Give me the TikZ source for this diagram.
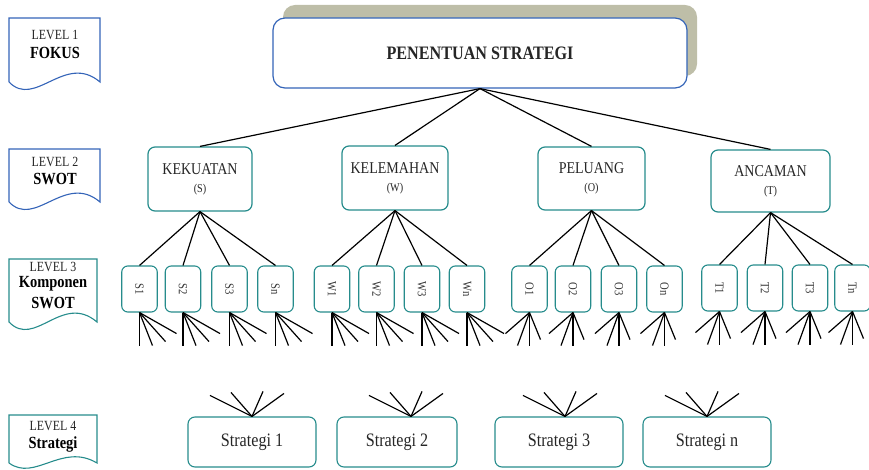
\documentclass[tikz,border=0pt]{standalone}
\usepackage{fontspec}
\setmainfont[FakeStretch=0.85]{Liberation Serif}
\definecolor{blueC}{RGB}{52,100,184}
\definecolor{tealC}{RGB}{38,140,140}
\definecolor{shadowC}{RGB}{190,190,168}
% level tag: box with a wavy lower edge
\newcommand\leveltag[6]{%
  \draw[#5, line width=1.1pt] (#1,#4) -- (#1,#3) -- (#2,#3) -- (#2,#4)
    .. controls (#2-35,#4-#6*1.1) and (#1+26,#4+#6) .. (#1,#4);}
\begin{document}
\begin{tikzpicture}[x=1pt,y=-1pt,
  topbox/.style={draw=blueC, line width=1.2pt, rounded corners=12pt, fill=white,
    minimum width=414pt, minimum height=70pt, inner sep=0pt,
    font=\fontsize{19}{22}\selectfont\bfseries, text=black!85},
  swotbox/.style={draw=tealC, line width=1.2pt, rounded corners=7pt, fill=white,
    align=center, inner sep=0pt, font=\fontsize{16.5}{19}\selectfont, text=black!85},
  compbox/.style={draw=tealC, line width=1.1pt, rounded corners=6pt,
    minimum width=35.5pt, minimum height=46pt, inner sep=0pt},
  compl/.style={rotate=-90, font=\fontsize{12.5}{14}\selectfont, text=black!80},
  stratbox/.style={draw=tealC, line width=1.1pt, rounded corners=7pt,
    minimum width=128pt, minimum height=50pt, inner sep=0pt,
    font=\fontsize{19}{22}\selectfont, text=black!85},
  lvl/.style={font=\fontsize{14}{16}\selectfont, text=black!85, inner sep=0pt},
  lvlb/.style={font=\fontsize{17}{19}\selectfont\bfseries, text=black, inner sep=0pt},
  link/.style={line width=1.2pt, black}]
\useasboundingbox (0,0) rectangle (869,470);

% level tags
\leveltag{9}{100}{18}{82}{blueC}{27}
\leveltag{9}{100}{149}{202}{blueC}{27}
\leveltag{9}{97}{259}{322}{tealC}{27}
\leveltag{9}{97}{415}{463}{tealC}{19}
\node[lvl]  (l1a) at (55,35)  {LEVEL 1};
\node[lvlb] (l1b) at (55,53)  {FOKUS};
\node[lvl]  (l2a) at (55,162) {LEVEL 2};
\node[lvlb] (l2b) at (55,179) {SWOT};
\node[lvl]  (l3a) at (53,267) {LEVEL 3};
\node[lvlb] (l3b) at (53,284) {Komponen};
\node[lvlb] (l3c) at (53,303) {SWOT};
\node[lvl]  (l4a) at (53,426) {LEVEL 4};
\node[lvlb] (l4b) at (53,444) {Strategi};

% focus
\fill[shadowC, rounded corners=12pt] (283,5) rectangle (697,76);
\node[topbox] (top) at (480,53) {PENENTUAN STRATEGI};

% SWOT
\node[swotbox, minimum width=104pt, minimum height=64pt] (kek) at (200,179)
  {KEKUATAN\\[-1pt]{\fontsize{12}{14}\selectfont(S)}};
\node[swotbox, minimum width=106pt, minimum height=64pt] (kel) at (395,178)
  {KELEMAHAN\\[-1pt]{\fontsize{12}{14}\selectfont(W)}};
\node[swotbox, minimum width=107pt, minimum height=63pt] (pel) at (591.5,178.5)
  {PELUANG\\[-1pt]{\fontsize{12}{14}\selectfont(O)}};
\node[swotbox, minimum width=119pt, minimum height=62pt] (anc) at (770.5,181)
  {ANCAMAN\\[-1pt]{\fontsize{12}{14}\selectfont(T)}};
\foreach \n in {kek,kel,pel,anc} \draw[link] (top.south) -- (\n.north);

% SWOT components
\foreach \n/\x/\t/\p in {s1/139.5/S1/kek, s2/183/S2/kek, s3/229.5/S3/kek, sn/275.5/Sn/kek,
                         w1/332/W1/kel, w2/376.5/W2/kel, w3/422/W3/kel, wn/467/Wn/kel}{
  \node[compbox] (\n) at (\x,289) {};
  \node[compl] (\n t) at (\n) {\t};
  \draw[link] (\p.south) -- (\n.north);
  \foreach \dx/\dy in {0/33,13/33,26/29,37/21} \draw[link] (\n.south) -- ++(\dx,\dy);
}
\foreach \n/\x/\y/\t/\p in {o1/529.5/289/O1/pel, o2/573/289/O2/pel, o3/619/289/O3/pel, on/664.5/289/On/pel,
                            t1/719.5/288/T1/anc, t2/765/288/T2/anc, t3/810/288/T3/anc, tn/852.5/288/Tn/anc}{
  \node[compbox] (\n) at (\x,\y) {};
  \node[compl] (\n t) at (\n) {\t};
  \draw[link] (\p.south) -- (\n.north);
  \foreach \dx/\dy in {-24/21,-12/33,0/33,11/27} \draw[link] (\n.south) -- ++(\dx,\dy);
}

% strategies
\node[stratbox] (st1) at (252,442) {Strategi 1};
\node[stratbox, minimum width=120pt] (st2) at (397,442) {Strategi 2};
\node[stratbox] (st3) at (559,442) {Strategi 3};
\node[stratbox] (stn) at (707,442) {Strategi n};
\foreach \n/\s in {st1/0, st2/14, st3/6, stn/0}
  \foreach \dx/\dy in {-42/-21,-21/-24,11/-25,32/-23}
    \draw[link] ([xshift=\s pt]\n.north) -- ++(\dx,\dy);
\end{tikzpicture}
\end{document}
